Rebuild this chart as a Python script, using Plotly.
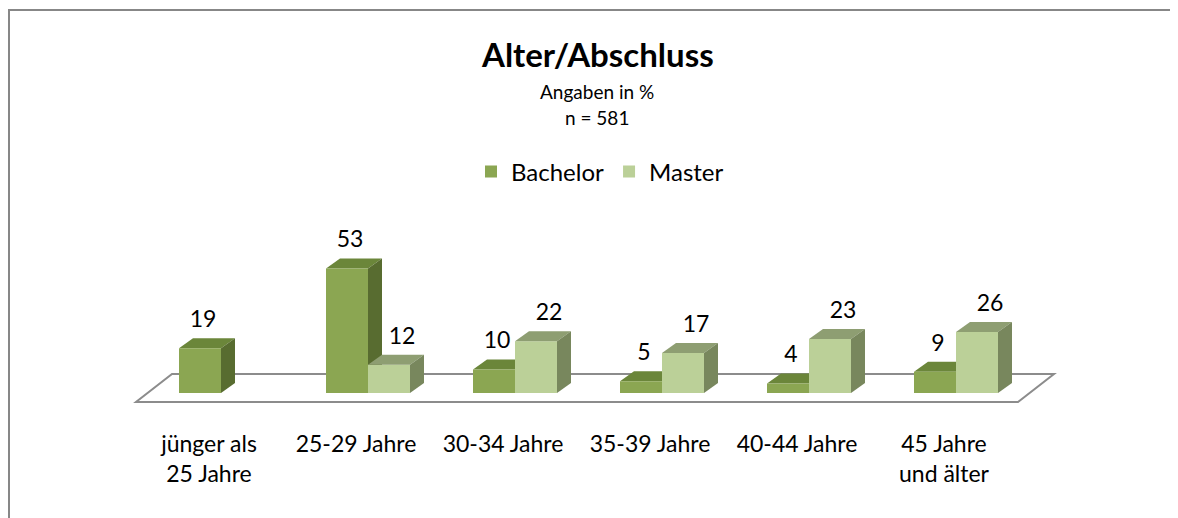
import plotly.graph_objects as go

# ---------------- data ----------------
categories = ["jünger als<br>25 Jahre", "25-29 Jahre", "30-34 Jahre",
              "35-39 Jahre", "40-44 Jahre", "45 Jahre<br>und älter"]
bachelor = [19, 53, 10, 5, 4, 9]
master = [None, 12, 22, 17, 23, 26]
series_names = ["Bachelor", "Master"]

# ---------------- styling / geometry ----------------
W, H = 1178, 518
OFF = 8                                       # page body margin
# plot area in screenshot pixels
SL, SR, ST, SB = 74, 1103, 205, 428
PL, PR, PT, PB = SL - OFF, SR - OFF, ST - OFF, SB - OFF
XR = [-1, 6]
YR = [-14.9, 80]
PXX = (SR - SL) / (XR[1] - XR[0])            # px per x unit
PXY = (SB - ST) / (YR[1] - YR[0])            # px per y unit


def xd(px):
    return XR[0] + (px - SL) / PXX


def yd(py):
    return YR[1] - (py - ST) / PXY


def xp(px):
    return (px - SL) / (SR - SL)


def yp(py):
    return (SB - py) / (SB - ST)


BAR_W = 42 / PXX
DX = 14 / PXX
DY = 10 / PXY
FONT = "Lato, 'Open Sans', sans-serif"

colors = {
    "Bachelor": dict(front="#8BA652", top="#6B863A", side="#586C30"),
    "Master": dict(front="#BBD098", top="#8E9E72", side="#78875D"),
}

idx = list(range(len(categories)))
fig = go.Figure()
shapes = []

# floor parallelogram
fl = [(136, 402), (1018, 402), (1054, 374), (172, 374)]
path = "M " + " L ".join(f"{xd(a):.4f},{yd(b):.4f}" for a, b in fl) + " Z"
shapes.append(dict(type="path", path=path, xref="x", yref="y",
                   line=dict(color="#8C8C8C", width=2), fillcolor="white",
                   layer="below"))


def faces(x0, x1, v, c, layer):
    top = (f"M {x0},{v} L {x1},{v} L {x1+DX},{v+DY} L {x0+DX},{v+DY} Z")
    side = (f"M {x1},0 L {x1},{v} L {x1+DX},{v+DY} L {x1+DX},{DY} Z")
    return [
        dict(type="path", path=top, xref="x", yref="y", fillcolor=c["top"],
             line=dict(width=0), layer=layer),
        dict(type="path", path=side, xref="x", yref="y", fillcolor=c["side"],
             line=dict(width=0), layer=layer),
    ]


series = [bachelor, master]
offsets = [-BAR_W, 0]
label_shift = [3 / PXX, 13 / PXX]
layers = ["below", "above"]
lab_x, lab_y, lab_t = [], [], []
for name, vals, off, ls, layer in zip(series_names, series, offsets,
                                      label_shift, layers):
    c = colors[name]
    fig.add_trace(go.Bar(
        x=idx, y=vals, name=name, offset=off, width=BAR_W,
        marker=dict(color=c["front"], line=dict(width=0)),
        hoverinfo="skip",
    ))
    for i, v in zip(idx, vals):
        if v is None:
            continue
        x0 = i + off
        x1 = x0 + BAR_W
        shapes += faces(x0, x1, v, c, layer)
        lab_x.append(x0 + BAR_W / 2 + ls)
        lab_y.append(v + DY + 17 / PXY)
        lab_t.append(str(v))

fig.add_trace(go.Scatter(
    x=lab_x, y=lab_y, text=lab_t, mode="text", showlegend=False,
    textfont=dict(size=23, color="black", family=FONT), hoverinfo="skip",
    cliponaxis=False,
))

# frame
shapes.append(dict(type="line", xref="paper", yref="paper",
                   x0=xp(8), x1=xp(W + 20), y0=yp(10), y1=yp(10),
                   line=dict(color="#878787", width=2)))
shapes.append(dict(type="line", xref="paper", yref="paper",
                   x0=xp(9), x1=xp(9), y0=yp(10), y1=yp(H + 20),
                   line=dict(color="#878787", width=2)))

annotations = [
    dict(text="<b>Alter/Abschluss</b>", x=xp(597), y=yp(54), xref="paper",
         yref="paper", showarrow=False, font=dict(size=33, family=FONT,
                                                  color="black"),
         xanchor="center", yanchor="middle"),
    dict(text="Angaben in %", x=xp(597), y=yp(91), xref="paper",
         yref="paper", showarrow=False, font=dict(size=19, family=FONT,
                                                  color="black"),
         xanchor="center", yanchor="middle"),
    dict(text="n = 581", x=xp(597), y=yp(117), xref="paper",
         yref="paper", showarrow=False, font=dict(size=19, family=FONT,
                                                  color="black"),
         xanchor="center", yanchor="middle"),
]

fig.update_layout(
    width=W, height=H,
    margin=dict(l=PL, r=W - PR, t=PT, b=H - PB, pad=0),
    paper_bgcolor="white", plot_bgcolor="rgba(0,0,0,0)",
    barmode="overlay",
    showlegend=True,
    legend=dict(orientation="h", x=xp(600), xanchor="center", y=yp(172),
                yanchor="middle", font=dict(size=24, family=FONT,
                                            color="black"),
                bgcolor="rgba(0,0,0,0)"),
    shapes=shapes,
    annotations=annotations,
    xaxis=dict(range=XR, tickvals=[i - 12 / PXX for i in idx],
               ticktext=categories, showgrid=False, zeroline=False,
               showline=False, ticks="", fixedrange=True,
               tickfont=dict(size=23, family=FONT, color="black")),
    yaxis=dict(range=YR, showgrid=False, zeroline=False, showline=False,
               showticklabels=False, ticks="", fixedrange=True),
)

fig.write_html("out.html")
